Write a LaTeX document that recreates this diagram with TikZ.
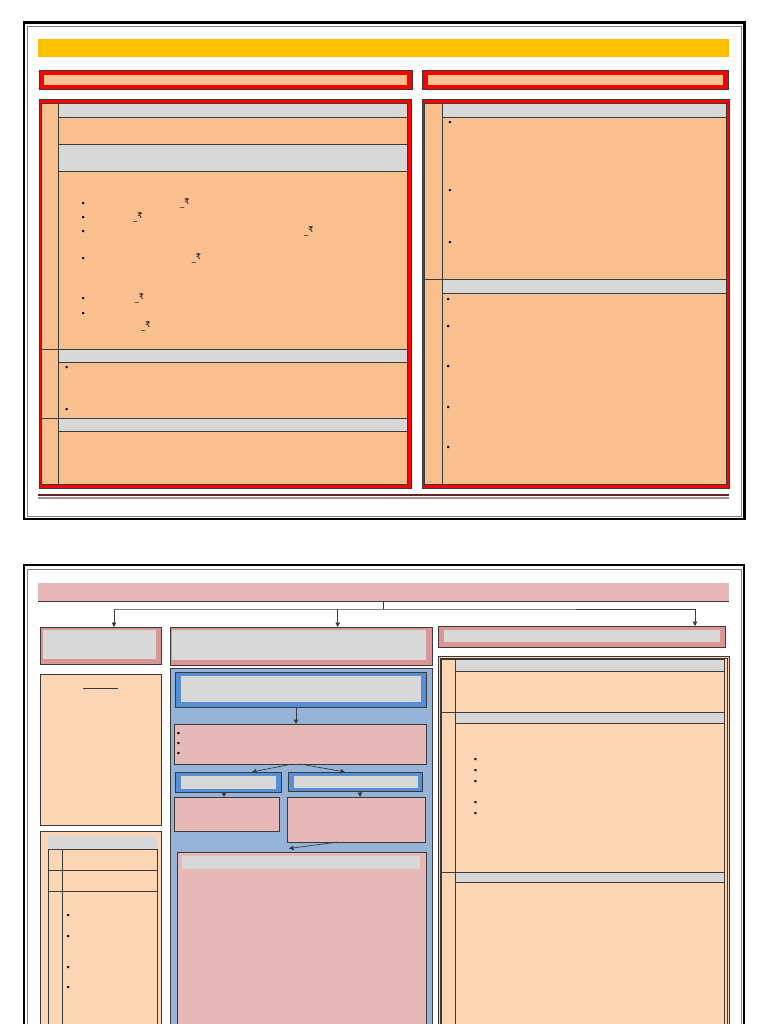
\documentclass[tikz,border=0pt]{standalone}
\usepackage{fontspec}
\newfontfamily\dejavu{DejaVu Sans}
\usetikzlibrary{arrows.meta,fit}
\definecolor{peachA}{HTML}{F9BF8F}
\definecolor{peachB}{HTML}{FCD5B4}
\definecolor{greyC}{HTML}{D8D8D8}
\definecolor{redC}{HTML}{FF0000}
\definecolor{pinkC}{HTML}{E6B8B7}
\definecolor{pinkB}{HTML}{D99694}
\definecolor{blueP}{HTML}{95B3D7}
\definecolor{blueB}{HTML}{558ED5}
\definecolor{yellowC}{HTML}{FFC000}
\definecolor{footD}{HTML}{632523}
\definecolor{footL}{HTML}{B08C8C}
\definecolor{edge}{HTML}{3A3A3A}
\tikzset{
  rect/.style={rectangle, inner sep=0pt, outer sep=0pt},
  cell/.style={rect, draw=edge, line width=0.7pt},
  bul/.style={rect, font=\fontsize{8.5}{8.5}\selectfont},
  rup/.style={rect, font=\dejavu\fontsize{8}{8}\selectfont},
  arr/.style={draw=edge, line width=0.7pt, -{Triangle[length=4.5pt,width=4.5pt]}},
  frameout/.style={draw=black, line width=2.5pt},
  framein/.style={draw=gray, line width=0.7pt},
}
\begin{document}
\begin{tikzpicture}[x=1pt,y=-1pt]
\useasboundingbox (0,0) rectangle (768,1024);
\clip (0,0) rectangle (768,1024);
\fill[white] (0,0) rectangle (768,1024);

% ================= PAGE 1 =================
\node[rect, frameout, fit={(24,22.5)(744.5,519)}] (frame1) {};
\node[rect, framein, fit={(27.5,26)(741,516)}] (frame1in) {};

\node[rect, fill=yellowC, fit={(38,39)(729,57.5)}] (ybar) {};

% header boxes
\node[rect, fill=redC, draw=edge, line width=0.7pt, fit={(39,70)(412,89)}] (hl) {};
\node[rect, fill=peachA, fit={(44,75)(407,85)}] (hlin) {};
\node[rect, fill=redC, draw=edge, line width=0.7pt, fit={(422,70)(728,89)}] (hr) {};
\node[rect, fill=peachA, fit={(427.5,75)(722.5,85)}] (hrin) {};

% left main panel
\node[rect, fill=redC, draw=edge, line width=0.7pt, fit={(39,99)(411.5,488)}] (pl) {};
\node[cell, fill=peachA, fit={(41,103)(407.5,484.5)}] (plin) {};
\node[cell, fill=peachA, fit={(41,103)(58,349)}] (ls1) {};
\node[cell, fill=peachA, fit={(41,349)(58,418)}] (ls2) {};
\node[cell, fill=peachA, fit={(41,418)(58,484.5)}] (ls3) {};
\node[cell, fill=greyC, fit={(58,103)(407.5,117)}] (lg1) {};
\node[cell, fill=peachA, fit={(58,117)(407.5,144)}] (lp1) {};
\node[cell, fill=greyC, fit={(58,144)(407.5,171)}] (lg2) {};
\node[cell, fill=peachA, fit={(58,171)(407.5,349)}] (lp2) {};
\node[cell, fill=greyC, fit={(58,349)(407.5,362)}] (lg3) {};
\node[cell, fill=peachA, fit={(58,362)(407.5,418)}] (lp3) {};
\node[cell, fill=greyC, fit={(58,418)(407.5,431)}] (lg4) {};
\node[cell, fill=peachA, fit={(58,431)(407.5,484.5)}] (lp4) {};

\foreach \y/\n in {204/a,217.5/b,232/c,259/d,299/e,313.5/f}
  \node[bul] (lb\n) at (83.3,\y) {\textbullet};
\node[rup] (r1) at (185,204) {\_\raisebox{2pt}{₹}};
\node[rup] (r2) at (138,217.5) {\_\raisebox{2pt}{₹}};
\node[rup] (r3) at (309,231.5) {\_\raisebox{2pt}{₹}};
\node[rup] (r4) at (196.5,259) {\_\raisebox{2pt}{₹}};
\node[rup] (r5) at (139.5,299) {\_\raisebox{2pt}{₹}};
\node[rup] (r6) at (146,327) {\_\raisebox{2pt}{₹}};
\node[bul] (lb2a) at (66.7,368) {\textbullet};
\node[bul] (lb2b) at (66.7,410) {\textbullet};

% right main panel
\node[rect, fill=redC, draw=edge, line width=0.7pt, fit={(422,99)(729.5,488)}] (pr) {};
\node[cell, fill=peachA, fit={(424.5,103)(726,484)}] (prin) {};
\node[cell, fill=peachA, fit={(424.5,103)(442,279)}] (rs1) {};
\node[cell, fill=peachA, fit={(424.5,279)(442,484)}] (rs2) {};
\node[cell, fill=greyC, fit={(442,103)(726,117)}] (rg1) {};
\node[cell, fill=peachA, fit={(442,117)(726,279)}] (rp1) {};
\node[cell, fill=greyC, fit={(442,279)(726,293.5)}] (rg2) {};
\node[cell, fill=peachA, fit={(442,293.5)(726,484)}] (rp2) {};
\foreach \y/\n in {122.5/a,190.5/b,243/c}
  \node[bul] (rb\n) at (450,\y) {\textbullet};
\foreach \y/\n in {299.5/a,327/b,367.3/c,407.7/d,448.3/e}
  \node[bul] (rc\n) at (448.3,\y) {\textbullet};

% footer rules
\draw[footD, line width=2pt] (38,495) -- (729,495);
\draw[footL, line width=2pt] (38,498) -- (729,498);

% ================= PAGE 2 =================
\node[rect, frameout, fit={(24,565)(744,1040)}] (frame2) {};
\node[rect, framein, fit={(27.5,569)(741,1040)}] (frame2in) {};

\node[rect, fill=pinkC, fit={(38,583)(729,601)}] (title) {};
\draw[edge, line width=0.8pt] (title.south west) -- (title.south east);

% top row boxes
\node[rect, fill=pinkB, draw=edge, line width=0.7pt, fit={(40.5,627)(161.5,664)}] (lbox) {};
\node[rect, fill=greyC, fit={(42.5,629.5)(155.5,659)}] (lboxin) {};
\node[rect, fill=pinkB, draw=edge, line width=0.7pt, fit={(170,627)(432,665)}] (mbox) {};
\node[rect, fill=greyC, fit={(172,629.5)(426,660)}] (mboxin) {};
\node[rect, fill=pinkB, draw=edge, line width=0.7pt, fit={(438,626)(725,647)}] (rbox) {};
\node[rect, fill=greyC, fit={(443.5,629.5)(719.5,642)}] (rboxin) {};

% connectors from title
\coordinate (hub) at (383.5,609);
\coordinate (ca) at (114,609);
\coordinate (cb) at (337.7,609);
\coordinate (cc) at (695,609);
\draw[edge, line width=0.7pt] (title.south) -- (hub);
\draw[gray, line width=0.7pt] (ca) -- (cc);
\draw[edge, line width=0.7pt] (576,609) -- (cc);
\draw[arr] (ca) -- (ca |- lbox.north);
\draw[arr] (cb) -- (cb |- mbox.north);
\draw[arr] (cc) -- (cc |- rbox.north);

% left column
\node[cell, fill=peachB, fit={(40.5,674.5)(161.5,825)}] (lp1b) {};
\draw[edge, line width=0.7pt] (83,688) -- (118,688);
\node[cell, fill=peachB, fit={(40.5,831.5)(161.5,1040)}] (lp2b) {};
\node[rect, fill=greyC, fit={(47.5,836)(157,848.5)}] (lp2g) {};
\node[cell, fit={(48,849)(157,1040)}] (lt) {};
\draw[edge, line width=0.7pt] (62,849) -- (62,1040);
\draw[edge, line width=0.7pt] (48,870) -- (157,870);
\draw[edge, line width=0.7pt] (48,891) -- (157,891);
\foreach \y/\n in {915.7/a,937/b,968/c,988.3/d}
  \node[bul] (lt\n) at (68.3,\y) {\textbullet};

% middle blue panel
\node[cell, fill=blueP, fit={(170,668)(432,1040)}] (bp) {};
\node[rect, fill=blueB, draw=edge, line width=0.7pt, fit={(175.5,672.5)(426.5,707)}] (bb1) {};
\node[rect, fill=greyC, fit={(181,676)(420.5,701.5)}] (bb1in) {};
\node[cell, fill=pinkC, fit={(174.5,724)(426,764)}] (pk1) {};
\foreach \y/\n in {733.5/a,743.5/b,753.5/c}
  \node[bul] (pb\n) at (178.5,\y) {\textbullet};
\node[rect, fill=blueB, draw=edge, line width=0.7pt, fit={(175.5,772)(281.5,792)}] (bb2) {};
\node[rect, fill=greyC, fit={(180.5,775.5)(276,788.5)}] (bb2in) {};
\node[rect, fill=blueB, draw=edge, line width=0.7pt, fit={(288.5,772)(422.5,791)}] (bb3) {};
\node[rect, fill=greyC, fit={(294,775.5)(417.5,787.5)}] (bb3in) {};
\node[cell, fill=pinkC, fit={(174.5,797)(279.5,831.5)}] (pk2) {};
\node[cell, fill=pinkC, fit={(287.5,797)(425,842)}] (pk3) {};
\node[cell, fill=pinkC, fit={(177,852)(426,1040)}] (pk4) {};
\node[rect, fill=greyC, fit={(182,856)(420,869)}] (pk4g) {};

\draw[arr] (bb1.south -| 296,0) -- (pk1.north -| 296,0);
\draw[arr] (pk1.south -| 292,0) -- (bb2.north -| 252,0);
\draw[arr] (pk1.south -| 300,0) -- (bb3.north -| 345,0);
\draw[arr] (bb2.south -| 224,0) -- (pk2.north -| 224,0);
\draw[arr] (bb3.south -| 360,0) -- (pk3.north -| 360,0);
\coordinate (pk4t) at (289,848.5);
\draw[arr] (pk3.south -| 338,0) -- (pk4t);

% right peach panel
\node[cell, fill=peachB, fit={(438,656)(729.5,1040)}] (rpp) {};
\node[cell, fit={(440,658)(727,1040)}] (rppin) {};
\node[cell, fill=peachB, fit={(441,659)(455,712)}] (rt1) {};
\node[cell, fill=peachB, fit={(441,712)(455,872)}] (rt2) {};
\node[cell, fill=peachB, fit={(441,872)(455,1040)}] (rt3) {};
\node[cell, fill=greyC, fit={(455,659)(724,671)}] (rtg1) {};
\node[cell, fill=peachB, fit={(455,671)(724,712)}] (rtp1) {};
\node[cell, fill=greyC, fit={(455,712)(724,723)}] (rtg2) {};
\node[cell, fill=peachB, fit={(455,723)(724,872)}] (rtp2) {};
\node[cell, fill=greyC, fit={(455,872)(724,882)}] (rtg3) {};
\node[cell, fill=peachB, fit={(455,882)(724,1040)}] (rtp3) {};
\foreach \y/\n in {760/a,771/b,782/c,803/d,813.5/e}
  \node[bul] (rtb\n) at (475.5,\y) {\textbullet};
\end{tikzpicture}
\end{document}
